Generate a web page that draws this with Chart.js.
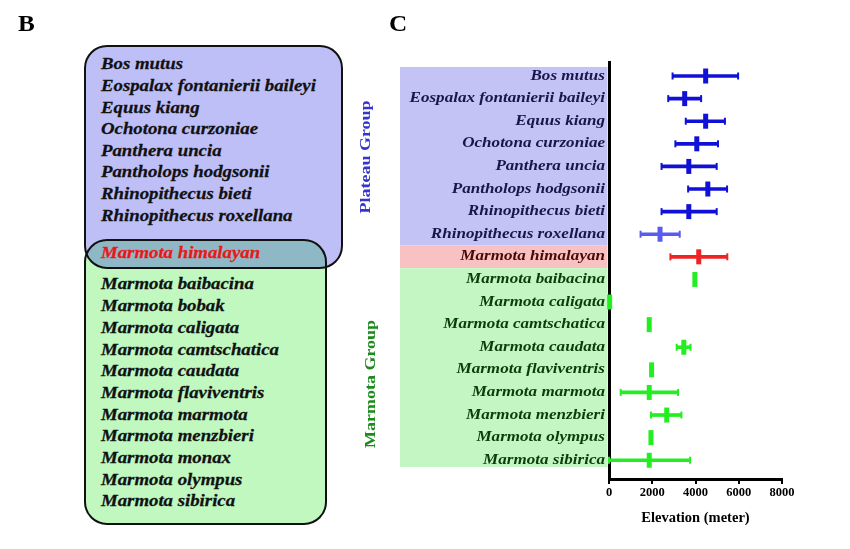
<!DOCTYPE html>
<html><head><meta charset="utf-8">
<script src="https://cdn.jsdelivr.net/npm/chart.js@4.4.0/dist/chart.umd.min.js"></script>
<style>
html,body{margin:0;padding:0;background:#fff;width:850px;height:549px;overflow:hidden;}
#wrap{position:relative;width:850px;height:549px;}
#box{position:absolute;left:0;top:0;width:850px;height:549px;}
svg{position:absolute;left:0;top:0;}
.t{position:absolute;font-family:"Liberation Serif","Times New Roman",serif;font-weight:bold;white-space:nowrap;line-height:1;}
</style></head><body>
<div id="wrap">
<svg id="venn" width="850" height="549" xmlns="http://www.w3.org/2000/svg"></svg>
<div id="box"><canvas id="c"></canvas></div>
<div class="t" style="left:18px;top:11px;font-size:24px;transform:scaleX(1.05);transform-origin:0 0;">B</div>
<div class="t" style="left:389px;top:11px;font-size:24px;transform:scaleX(1.05);transform-origin:0 0;">C</div>
<div class="t" style="left:365px;top:157px;font-size:15px;color:#3535cf;transform:translate(-50%,-50%) rotate(-90deg) scaleX(1.2);">Plateau Group</div>
<div class="t" style="left:370px;top:384px;font-size:15px;color:#1c8a1c;transform:translate(-50%,-50%) rotate(-90deg) scaleX(1.2);">Marmota Group</div>
</div>
<script>
// ---- data ----
const plateauSpecies = ["Bos mutus","Eospalax fontanierii baileyi","Equus kiang","Ochotona curzoniae","Panthera uncia","Pantholops hodgsonii","Rhinopithecus bieti","Rhinopithecus roxellana"];
const sharedSpecies = ["Marmota himalayan"];
const marmotaSpecies = ["Marmota baibacina","Marmota bobak","Marmota caligata","Marmota camtschatica","Marmota caudata","Marmota flaviventris","Marmota marmota","Marmota menzbieri","Marmota monax","Marmota olympus","Marmota sibirica"];

const categories = ["Bos mutus","Eospalax fontanierii baileyi","Equus kiang","Ochotona curzoniae","Panthera uncia","Pantholops hodgsonii","Rhinopithecus bieti","Rhinopithecus roxellana","Marmota himalayan","Marmota baibacina","Marmota caligata","Marmota camtschatica","Marmota caudata","Marmota flaviventris","Marmota marmota","Marmota menzbieri","Marmota olympus","Marmota sibirica"];
const meanElev = [4470,3500,4470,4060,3690,4570,3690,2360,4150,3970,30,1860,3460,1970,1860,2670,1940,1860];
const lowElev  = [2940,2740,3550,3070,2430,3660,2430,1460,2840,3970,30,1860,3130,1970,540,1940,1940,0];
const highElev = [5970,4260,5360,5040,4980,5460,4980,3270,5470,3970,30,1860,3770,1970,3190,3350,1940,3750];
const rowGroup = ["P","P","P","P","P","P","P","Px","H","M","M","M","M","M","M","M","M","M"];
const xTicks = [0,2000,4000,6000,8000];

// ---- styles ----
const markColor = {P:"#1010d6", Px:"#5a5aee", H:"#ee2424", M:"#22ee22"};
const labelColor = {P:"#17174a", Px:"#17174a", H:"#4a0808", M:"#0c3c0c"};
const bandColor = {P:"#c3c3f6", Px:"#c3c3f6", H:"#f8c2c2", M:"#c4f6c4"};
const serif = '"Liberation Serif","Times New Roman",serif';
const labelStretch = 1.22;

// ---- panel B (venn) ----
const svg = document.getElementById('venn');
const NS = "http://www.w3.org/2000/svg";
function el(tag, attrs, parent){const e=document.createElementNS(NS,tag);for(const k in attrs)e.setAttribute(k,attrs[k]);(parent||svg).appendChild(e);return e;}
const defs = el('defs',{});
const cp = el('clipPath',{id:'cb'},defs);
el('rect',{x:85,y:46,width:257,height:222,rx:22},cp);
el('rect',{x:85,y:46,width:257,height:222,rx:22,fill:'#bfbff8'});
el('rect',{x:85,y:240,width:241,height:284,rx:22,fill:'#c0f8c0'});
el('rect',{x:85,y:240,width:241,height:284,rx:22,fill:'#8fb8c6','clip-path':'url(#cb)'});
el('rect',{x:85,y:46,width:257,height:222,rx:22,fill:'none',stroke:'#111',"stroke-width":2});
el('rect',{x:85,y:240,width:241,height:284,rx:22,fill:'none',stroke:'#111',"stroke-width":2});
function txt(s,x,y,color){const t=el('text',{x:x,y:y,fill:color,stroke:color,'stroke-width':0.25,'font-family':serif,'font-weight':'bold','font-style':'italic','font-size':'16px',transform:'translate('+x+',0) scale(1.175,1) translate('+(-x)+',0)'});t.textContent=s;}
plateauSpecies.forEach((s,i)=>txt(s,101,69.5+i*21.6,'#111'));
sharedSpecies.forEach((s,i)=>txt(s,101,258.5,'#e81818'));
marmotaSpecies.forEach((s,i)=>txt(s,101,289.5+i*21.7,'#111'));

// ---- panel C (chart) ----
const rowColors = rowGroup.map(g=>markColor[g]);
const bandPlugin = {
  id:'bands',
  beforeDraw(chart){
    const y = chart.scales.y, ctx = chart.ctx, left = 400, right = chart.chartArea.left - 1.5;
    let i = 0;
    while(i < rowGroup.length){
      let j = i; const g = bandColor[rowGroup[i]];
      while(j+1 < rowGroup.length && bandColor[rowGroup[j+1]] === g) j++;
      const a = i === 0 ? i-0.4 : i-0.5;
      const b = j === rowGroup.length-1 ? j+0.3 : j+0.5;
      const ya = y.getPixelForValue(a), yb = y.getPixelForValue(b);
      ctx.save(); ctx.fillStyle = g; ctx.fillRect(left, ya, right-left, yb-ya); ctx.restore();
      i = j+1;
    }
  }
};
function stretchLabels(s){
  if(s._stretched) return;
  s._stretched = true;
  const orig = s.drawLabels.bind(s);
  s.drawLabels = function(area){
    const ctx = this.ctx, x0 = this.right - this.options.ticks.padding;
    ctx.save();
    ctx.translate(x0,0); ctx.scale(labelStretch,1); ctx.translate(-x0,0);
    orig(area);
    ctx.restore();
  };
}

new Chart(document.getElementById('c'), {
  type:'scatter',
  data:{datasets:[
    {type:'bar', indexAxis:'y', data:categories.map((c,i)=>({y:i, x:[lowElev[i], highElev[i]]})), backgroundColor:rowColors, barThickness:3, borderWidth:0, clip:false},
    {data:categories.map((c,i)=>({x:lowElev[i], y:i})), pointStyle:'line', rotation:90, radius:3.5, borderWidth:2, borderColor:rowColors, clip:false},
    {data:categories.map((c,i)=>({x:highElev[i], y:i})), pointStyle:'line', rotation:90, radius:3.5, borderWidth:2, borderColor:rowColors, clip:false},
    {data:categories.map((c,i)=>({x:meanElev[i], y:i})), pointStyle:'line', rotation:90, radius:7.5, borderWidth:5, borderColor:rowColors, clip:false}
  ]},
  options:{
    responsive:true, maintainAspectRatio:false, animation:false,
    layout:{padding:{left:380, right:68, top:62, bottom:21}},
    plugins:{legend:{display:false}, tooltip:{enabled:false}},
    elements:{point:{hoverRadius:0}},
    scales:{
      x:{type:'linear', position:'bottom', min:0, max:8000, offset:false,
        afterBuildTicks:(s)=>{s.ticks = xTicks.map(v=>({value:v}));},
        afterFit:(s)=>{s.height = 49;},
        ticks:{color:'#000', padding:1, callback:(v)=>String(v), font:{family:serif, size:12.5, weight:'bold'}},
        grid:{display:true, drawOnChartArea:false, drawTicks:true, tickLength:5, color:'#000', lineWidth:2},
        border:{display:true, color:'#000', width:3},
        title:{display:true, text:'Elevation (meter)', color:'#000', padding:{top:6,bottom:1}, font:{family:serif, size:14.5, weight:'bold'}}
      },
      y:{type:'linear', position:'left', min:-0.62, max:17.83, reverse:true, offset:false,
        afterBuildTicks:(s)=>{s.ticks = categories.map((c,i)=>({value:i}));},
        afterFit:(s)=>{s.width = 229; stretchLabels(s);},
        ticks:{autoSkip:false, padding:4, callback:(v)=>categories[v], color:(c)=>labelColor[rowGroup[c.index]], font:{family:serif, size:14, weight:'bold', style:'italic'}},
        grid:{display:false, drawTicks:false},
        border:{display:true, color:'#000', width:3}
      }
    }
  },
  plugins:[bandPlugin]
});
</script>
</body></html>
